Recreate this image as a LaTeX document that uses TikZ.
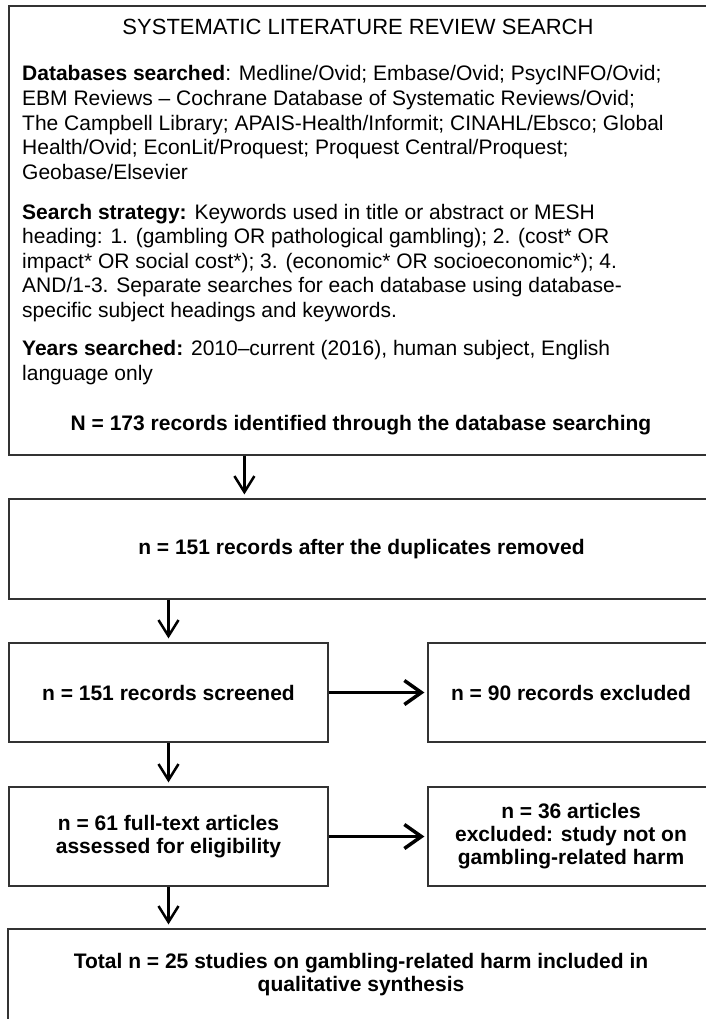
\documentclass[tikz,border=0pt]{standalone}
\usepackage{fontspec}
\setmainfont{Liberation Sans}
\usetikzlibrary{arrows.meta}

\begin{document}
\begin{tikzpicture}[x=1pt,y=-1pt]
\useasboundingbox (0,0) rectangle (705,1019);
\begin{scope}[every node/.style={rectangle,draw=black!80,line width=1.2pt,align=center,
              font=\bfseries\fontsize{21}{23}\selectfont}]
    \node[minimum width=705pt,minimum height=449pt] (search) at (361.5,230.5) {};
    \node[minimum width=705pt,minimum height=100pt] (dedup) at (361.5,549)
        {n = 151 records after the duplicates removed};
    \node[minimum width=319pt,minimum height=99pt] (screen) at (168.5,692.5)
        {n = 151 records screened};
    \node[minimum width=286pt,minimum height=99pt] (excl) at (571,692.5)
        {n = 90 records excluded};
    \node[minimum width=319pt,minimum height=99pt] (fulltext) at (168.5,836.5)
        {n = 61 full-text articles\\assessed for eligibility};
    \node[minimum width=286pt,minimum height=99pt] (exclft) at (571,836.5)
        {n = 36 articles\\excluded: study not on\\gambling-related harm};
    \node[minimum width=706pt,minimum height=92pt] (total) at (361,975)
        {Total n = 25 studies on gambling-related harm included in\\qualitative synthesis};
\end{scope}

% text of the search box
\begin{scope}[every node/.style={inner sep=0pt,align=left,font=\fontsize{21}{24.5}\selectfont}]
    \node[anchor=base,font=\fontsize{22}{25}\selectfont] (title) at (358,35)
        {SYSTEMATIC LITERATURE REVIEW SEARCH};
    \node[anchor=base west] (dbs) at (22,179)
        {\textbf{Databases searched}: Medline/Ovid; Embase/Ovid; PsycINFO/Ovid;\\
         EBM Reviews -- Cochrane Database of Systematic Reviews/Ovid;\\
         The Campbell Library; APAIS-Health/Informit; CINAHL/Ebsco; Global\\
         Health/Ovid; EconLit/Proquest; Proquest Central/Proquest;\\
         Geobase/Elsevier};
    \node[anchor=base west] (strategy) at (22,317)
        {\textbf{Search strategy:} Keywords used in title or abstract or MESH\\
         heading: 1. (gambling OR pathological gambling); 2. (cost* OR\\
         impact* OR social cost*); 3. (economic* OR socioeconomic*); 4.\\
         AND/1-3. Separate searches for each database using database-\\
         specific subject headings and keywords.};
    \node[anchor=base west] (years) at (22,380)
        {\textbf{Years searched:} 2010--current (2016), human subject, English\\
         language only};
    \node[anchor=base,font=\bfseries\fontsize{21}{25}\selectfont] (found) at (361,430)
        {N = 173 records identified through the database searching};
\end{scope}

\begin{scope}[every edge/.style={draw=black,line width=2.5pt,shorten >=4pt},
              >={Straight Barb[length=16pt,width=20pt]}]
    \path [->] ([xshift=236pt]search.south west) edge ([xshift=236pt]dedup.north west);
    \path [->] (dedup.south -| screen.north) edge (screen.north);
    \path [->] (screen) edge (fulltext);
    \path [->] (fulltext.south) edge (total.north -| fulltext.south);
\end{scope}

\begin{scope}[every edge/.style={draw=black,line width=3.5pt,shorten >=3pt},
              >={Straight Barb[length=17pt,width=24pt]}]
    \path [->] (screen) edge (excl);
    \path [->] (fulltext) edge (exclft);
\end{scope}
\end{tikzpicture}
\end{document}
